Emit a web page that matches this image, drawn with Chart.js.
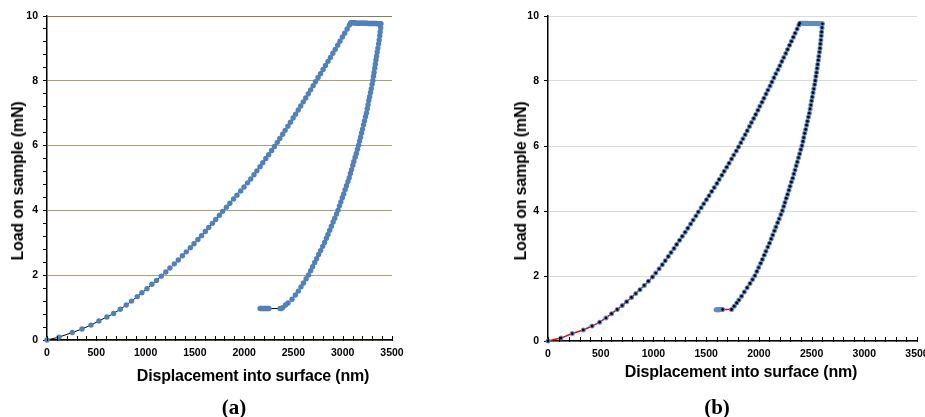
<!DOCTYPE html>
<html>
<head>
<meta charset="utf-8">
<script src="https://cdn.jsdelivr.net/npm/chart.js@4.4.0/dist/chart.umd.min.js"></script>
<style>
  body { margin: 0; background: #fff; width: 925px; height: 417px; overflow: hidden; position: relative; font-family: "Liberation Sans", Arial, sans-serif; }
  canvas { position: absolute; top: 0; }
  #chartA { left: 0; }
  #chartB { left: 460px; }
  .lbl { position: absolute; white-space: nowrap; font-weight: bold; color: #000; transform: translate(-50%, -50%); }
  .ytitle { font-size: 16px; letter-spacing: -0.2px; transform: translate(-50%, -50%) rotate(-90deg); }
  .xtitle { font-size: 16px; letter-spacing: -0.2px; }
  .tag { font-family: "Liberation Serif", "Times New Roman", serif; font-size: 21px; }
</style>
</head>
<body>
<canvas id="chartA" width="460" height="417"></canvas>
<canvas id="chartB" width="480" height="417"></canvas>

<div class="lbl ytitle" style="left:18px; top:181px;">Load on sample (mN)</div>
<div class="lbl xtitle" style="left:253px; top:376px;">Displacement into surface (nm)</div>
<div class="lbl tag" style="left:234px; top:407px;">(a)</div>

<div class="lbl ytitle" style="left:521px; top:181px;">Load on sample (mN)</div>
<div class="lbl xtitle" style="left:741px; top:372px;">Displacement into surface (nm)</div>
<div class="lbl tag" style="left:717px; top:407px;">(b)</div>

<script>
// [displacement nm, load mN]
// (a)
const loadA = [[0,0],[122,0.09],[257,0.23],[355,0.34],[446,0.46],[527,0.59],[608,0.71],[676,0.82],[743,0.95],[804,1.08],[858,1.2],[916,1.34],[963,1.46],[1014,1.58],[1064,1.72],[1111,1.84],[1159,1.97],[1205,2.1],[1247,2.22],[1292,2.35],[1332,2.47],[1374,2.6],[1413,2.72],[1454,2.85],[1491,2.97],[1531,3.1],[1567,3.22],[1606,3.35],[1641,3.47],[1678,3.6],[1712,3.72],[1749,3.85],[1782,3.97],[1820,4.1],[1855,4.22],[1893,4.35],[1927,4.47],[1965,4.6],[1999,4.72],[2035,4.85],[2067,4.97],[2100,5.1],[2129,5.22],[2161,5.35],[2189,5.47],[2220,5.6],[2249,5.72],[2279,5.85],[2307,5.97],[2336,6.1],[2362,6.22],[2391,6.35],[2416,6.47],[2444,6.6],[2470,6.72],[2497,6.85],[2522,6.97],[2549,7.1],[2574,7.22],[2600,7.35],[2625,7.47],[2651,7.6],[2675,7.72],[2700,7.85],[2724,7.97],[2750,8.1],[2775,8.22],[2801,8.35],[2825,8.47],[2851,8.6],[2875,8.72],[2900,8.85],[2924,8.97],[2949,9.1],[2972,9.22],[2997,9.35],[3020,9.47],[3045,9.6],[3068,9.72],[3081,9.79]];
const holdA = [[3092,9.79],[3103,9.79],[3114,9.79],[3125,9.79],[3136,9.78],[3147,9.78],[3158,9.78],[3169,9.78],[3180,9.78],[3191,9.78],[3202,9.78],[3213,9.78],[3224,9.78],[3235,9.78],[3246,9.78],[3257,9.77],[3268,9.77],[3279,9.77],[3290,9.77],[3301,9.77],[3312,9.77],[3323,9.77],[3334,9.77],[3345,9.77],[3356,9.76],[3367,9.76],[3378,9.76],[3388,9.76]];
const unloadA = [[3385,9.64],[3380,9.51],[3376,9.39],[3370,9.26],[3364,9.14],[3357,9.01],[3350,8.89],[3343,8.76],[3337,8.64],[3331,8.51],[3325,8.39],[3318,8.26],[3312,8.14],[3306,8.01],[3298,7.89],[3290,7.76],[3282,7.64],[3273,7.51],[3265,7.39],[3257,7.26],[3249,7.14],[3241,7.01],[3231,6.89],[3221,6.76],[3211,6.64],[3201,6.51],[3191,6.39],[3181,6.26],[3171,6.14],[3161,6.01],[3150,5.89],[3138,5.76],[3126,5.64],[3113,5.51],[3102,5.39],[3090,5.26],[3078,5.14],[3066,5.01],[3053,4.89],[3038,4.76],[3024,4.64],[3010,4.51],[2996,4.39],[2981,4.26],[2967,4.14],[2953,4.01],[2937,3.89],[2919,3.76],[2903,3.64],[2885,3.51],[2868,3.39],[2851,3.26],[2834,3.14],[2816,3.01],[2797,2.89],[2776,2.76],[2756,2.64],[2735,2.51],[2716,2.39],[2694,2.26],[2675,2.14],[2654,2.01],[2629,1.89],[2602,1.76],[2577,1.64],[2550,1.51],[2520,1.39],[2486,1.26],[2445,1.14],[2420,1.08],[2392,1.0],[2378,0.97],[2365,0.97]];
const driftA = [[2252,0.97],[2243,0.97],[2234,0.97],[2225,0.97],[2216,0.97],[2207,0.97],[2198,0.97],[2189,0.97],[2180,0.97],[2171,0.97],[2162,0.97]];

// (b)
const loadB = [[0,0],[123,0.09],[230,0.23],[335,0.34],[418,0.46],[490,0.58],[550,0.71],[603,0.84],[657,0.97],[704,1.09],[746,1.21],[792,1.34],[832,1.46],[872,1.58],[913,1.71],[952,1.84],[991,1.97],[1022,2.09],[1054,2.22],[1084,2.35],[1112,2.47],[1141,2.6],[1167,2.72],[1195,2.85],[1220,2.97],[1248,3.1],[1274,3.22],[1301,3.35],[1326,3.47],[1353,3.6],[1377,3.72],[1403,3.85],[1426,3.97],[1453,4.1],[1477,4.22],[1503,4.35],[1527,4.47],[1553,4.6],[1577,4.72],[1602,4.85],[1624,4.97],[1649,5.1],[1671,5.22],[1695,5.35],[1717,5.47],[1741,5.6],[1762,5.72],[1786,5.85],[1807,5.97],[1829,6.1],[1849,6.22],[1870,6.35],[1890,6.47],[1911,6.6],[1930,6.72],[1951,6.85],[1970,6.97],[1991,7.1],[2009,7.22],[2030,7.35],[2048,7.47],[2068,7.6],[2086,7.72],[2106,7.85],[2124,7.97],[2143,8.1],[2161,8.22],[2181,8.35],[2199,8.47],[2218,8.6],[2236,8.72],[2255,8.85],[2272,8.97],[2291,9.1],[2309,9.22],[2327,9.35],[2344,9.47],[2363,9.6],[2380,9.72],[2388,9.78]];
const holdB = [[2398,9.78],[2408,9.78],[2418,9.78],[2428,9.78],[2438,9.78],[2448,9.78],[2458,9.78],[2468,9.77],[2478,9.77],[2488,9.77],[2498,9.77],[2508,9.77],[2518,9.77],[2528,9.77],[2538,9.77],[2548,9.77],[2558,9.76],[2568,9.76],[2578,9.76],[2588,9.76],[2596,9.76],[2603,9.76]];
const unloadB = [[2599,9.64],[2595,9.51],[2592,9.39],[2588,9.26],[2584,9.14],[2580,9.01],[2575,8.89],[2569,8.76],[2564,8.64],[2558,8.51],[2553,8.39],[2547,8.26],[2541,8.14],[2535,8.01],[2529,7.89],[2521,7.76],[2514,7.64],[2507,7.51],[2500,7.39],[2493,7.26],[2486,7.14],[2479,7.01],[2470,6.89],[2461,6.76],[2453,6.64],[2444,6.51],[2435,6.39],[2426,6.26],[2418,6.14],[2409,6.01],[2398,5.89],[2387,5.76],[2376,5.64],[2365,5.51],[2354,5.39],[2343,5.26],[2332,5.14],[2321,5.01],[2309,4.89],[2296,4.76],[2285,4.64],[2272,4.51],[2260,4.39],[2247,4.26],[2236,4.14],[2223,4.01],[2209,3.89],[2193,3.76],[2178,3.64],[2162,3.51],[2148,3.39],[2132,3.26],[2117,3.14],[2101,3.01],[2085,2.89],[2067,2.76],[2051,2.64],[2033,2.51],[2017,2.39],[1998,2.26],[1981,2.14],[1962,2.01],[1940,1.89],[1916,1.77],[1889,1.64],[1862,1.51],[1836,1.38],[1811,1.26],[1790,1.17],[1766,1.07],[1741,0.97]];
const driftB = [[1656,0.97],[1650,0.97],[1643,0.97],[1636,0.97],[1629,0.96],[1622,0.96],[1615,0.96],[1608,0.96],[1601,0.96],[1595,0.96]];

const xTicks = { min: 0, max: 3500, step: 100, labelEvery: 500 };
const yTicks = { min: 0, max: 10, step: 0.4, labelEvery: 2 };

const toXY = arr => arr.map(([x, y]) => ({ x, y }));
const isMajor = (v, every) => Math.abs(v / every - Math.round(v / every)) < 1e-6;

Chart.defaults.font.family = '"Liberation Sans", Arial, sans-serif';
Chart.defaults.color = '#000';

// small x-axis tick marks pointing into the plot
const innerTicks = {
    id: 'innerTicks',
    afterDraw(chart) {
        const s = chart.scales.x, ctx = chart.ctx, y0 = chart.chartArea.bottom;
        ctx.save();
        ctx.strokeStyle = '#000';
        ctx.lineWidth = 1;
        s.ticks.forEach(t => {
            const px = Math.round(s.getPixelForValue(t.value)) + 0.5;
            ctx.beginPath();
            ctx.moveTo(px, y0 + 1);
            ctx.lineTo(px, y0 - 4);
            ctx.stroke();
        });
        ctx.restore();
    }
};

function makeChart(id, datasets, cfg) {
    return new Chart(document.getElementById(id), {
        type: 'scatter',
        data: { datasets },
        options: {
            responsive: false,
            animation: false,
            events: [],
            layout: { padding: cfg.padding },
            plugins: { legend: { display: false }, tooltip: { enabled: false } },
            scales: {
                x: {
                    type: 'linear', min: xTicks.min, max: xTicks.max,
                    afterFit: s => { s.height = 30; },
                    grid: { display: false, drawTicks: false },
                    border: { display: true, color: '#000', width: 1.5 },
                    ticks: {
                        stepSize: xTicks.step, autoSkip: false, maxRotation: 0, padding: 7,
                        font: { size: 10.5, weight: 'bold' },
                        callback: v => isMajor(v, xTicks.labelEvery) ? String(Math.round(v)) : ''
                    }
                },
                y: {
                    type: 'linear', min: yTicks.min, max: yTicks.max,
                    afterFit: s => { s.width = cfg.yWidth; },
                    grid: {
                        color: ctx => isMajor(ctx.tick.value, yTicks.labelEvery) ? cfg.gridColor(ctx.tick.value) : 'rgba(0,0,0,0)',
                        lineWidth: 1,
                        tickLength: 4,
                        tickColor: ctx => (cfg.yMinor || isMajor(ctx.tick.value, yTicks.labelEvery)) ? '#000' : 'rgba(0,0,0,0)'
                    },
                    border: { display: true, color: '#000', width: 1.5 },
                    ticks: {
                        stepSize: yTicks.step, autoSkip: false, padding: 5,
                        font: { size: 10.5, weight: 'bold' },
                        callback: v => isMajor(v, yTicks.labelEvery) ? String(Math.round(v)) : ''
                    }
                }
            }
        },
        plugins: [innerTicks]
    });
}

makeChart('chartA', [{
    data: toXY([...loadA, ...holdA, ...unloadA, ...driftA]),
    showLine: true,
    borderColor: '#000',
    borderWidth: 1,
    pointRadius: 2.7,
    pointBorderWidth: 0,
    pointBackgroundColor: '#4f81bd',
    clip: false
}], {
    padding: { left: 0, right: 68, top: 16, bottom: 47 },
    yWidth: 47,
    yMinor: true,
    gridColor: v => v === 10 ? '#8c7d45' : '#aaa072'
});

makeChart('chartB', [{
    data: toXY([...loadB, ...holdB, ...unloadB, ...driftB]),
    order: 2,
    showLine: true,
    borderColor: '#ff0000',
    borderWidth: 1.5,
    pointRadius: 2.5,
    pointBorderWidth: 0,
    pointBackgroundColor: '#5b8ccb',
    clip: false
}, {
    data: toXY([...loadB, holdB[holdB.length - 1], ...unloadB, driftB[0]]),
    order: 1,
    showLine: false,
    pointRadius: 1.4,
    pointBorderWidth: 0,
    pointBackgroundColor: '#000',
    clip: false
}], {
    padding: { left: 0, right: 23, top: 16, bottom: 46 },
    yWidth: 88,
    yMinor: false,
    gridColor: () => '#d9d9d9'
});
</script>
</body>
</html>
